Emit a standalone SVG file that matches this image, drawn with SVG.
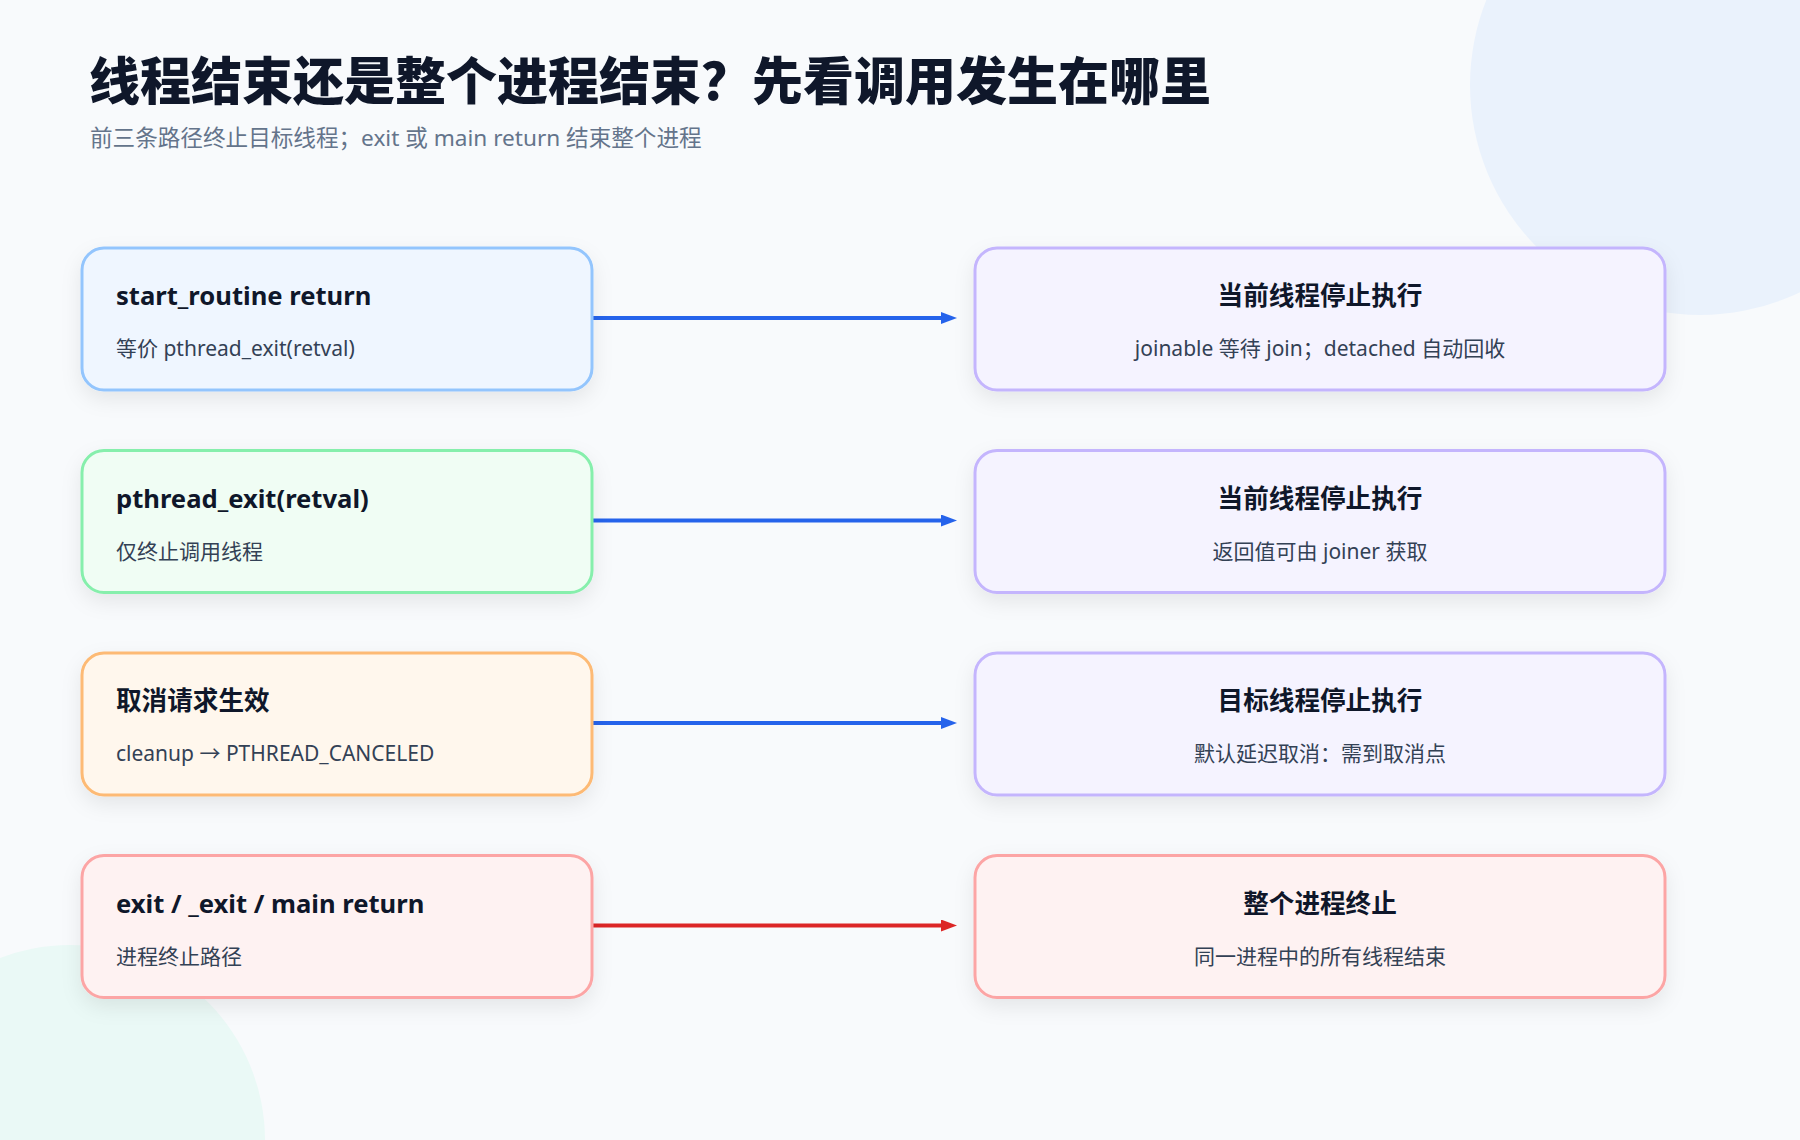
<svg xmlns="http://www.w3.org/2000/svg" width="1800" height="1140" viewBox="0 0 1800 1140">
<style>
.h1{font-family:"Noto Sans","Noto Sans CJK SC",sans-serif;font-weight:900;font-size:51px;fill:#0f172a}
.sub{font-family:"Noto Sans","Noto Sans CJK SC",sans-serif;font-size:22.6px;fill:#64748b}
.t{font-family:"Noto Sans","Noto Sans CJK SC",sans-serif;font-weight:700;font-size:25.6px;fill:#0f172a}
.d{font-family:"Noto Sans","Noto Sans CJK SC",sans-serif;font-size:21px;fill:#334155}
.c{text-anchor:middle}
.box{stroke-width:3;filter:url(#sh)}
.blue{fill:#eff6ff;stroke:#93c5fd}
.green{fill:#f0fdf4;stroke:#86efac}
.orange{fill:#fff7ed;stroke:#fdba74}
.red{fill:#fef2f2;stroke:#fca5a5}
.purple{fill:#f5f3ff;stroke:#c4b5fd}
.ab{stroke:#2563eb;stroke-width:4;fill:none;marker-end:url(#mb)}
.ar{stroke:#dc2626;stroke-width:4;fill:none;marker-end:url(#mr)}
</style>
<defs>
<filter id="sh" x="-10%" y="-20%" width="120%" height="150%">
<feDropShadow dx="0" dy="8" stdDeviation="10" flood-color="#0f172a" flood-opacity="0.08"/>
</filter>
<marker id="mb" viewBox="0 0 16 12" refX="0" refY="6" markerWidth="16" markerHeight="12" markerUnits="userSpaceOnUse" orient="auto">
<path d="M0,0 L16,6 L0,12 Z" fill="#2563eb"/>
</marker>
<marker id="mr" viewBox="0 0 16 12" refX="0" refY="6" markerWidth="16" markerHeight="12" markerUnits="userSpaceOnUse" orient="auto">
<path d="M0,0 L16,6 L0,12 Z" fill="#dc2626"/>
</marker>
</defs>
<rect x="0" y="0" width="1800" height="1140" fill="#f8fafc"/>
<circle cx="1700" cy="85" r="230" fill="#eaf2fc"/>
<circle cx="70" cy="1140" r="195" fill="#eaf9f6"/>
<text class="h1" x="89" y="100">线程结束还是整个进程结束？先看调用发生在哪里</text>
<text class="sub" x="90" y="146">前三条路径终止目标线程；exit 或 main return 结束整个进程</text>
<g id="connectors">
<line class="ab" x1="592" y1="318" x2="941" y2="318"/>
<line class="ab" x1="592" y1="520.5" x2="941" y2="520.5"/>
<line class="ab" x1="592" y1="723" x2="941" y2="723"/>
<line class="ar" x1="592" y1="925.5" x2="941" y2="925.5"/>
</g>
<g id="n1">
<rect class="box blue" x="82" y="248" width="510" height="142" rx="22"/>
<text class="t" x="116" y="305">start_routine return</text>
<text class="d" x="116" y="356">等价 pthread_exit(retval)</text>
</g>
<g id="n2">
<rect class="box green" x="82" y="450.5" width="510" height="142" rx="22"/>
<text class="t" x="116" y="507.5">pthread_exit(retval)</text>
<text class="d" x="116" y="558.5">仅终止调用线程</text>
</g>
<g id="n3">
<rect class="box orange" x="82" y="653" width="510" height="142" rx="22"/>
<text class="t" x="116" y="710">取消请求生效</text>
<text class="d" x="116" y="761">cleanup → PTHREAD_CANCELED</text>
</g>
<g id="n4">
<rect class="box red" x="82" y="855.5" width="510" height="142" rx="22"/>
<text class="t" x="116" y="912.5">exit / _exit / main return</text>
<text class="d" x="116" y="963.5">进程终止路径</text>
</g>
<g id="r1">
<rect class="box purple" x="975" y="248" width="690" height="142" rx="22"/>
<text class="t c" x="1320" y="305">当前线程停止执行</text>
<text class="d c" x="1320" y="356">joinable 等待 join；detached 自动回收</text>
</g>
<g id="r2">
<rect class="box purple" x="975" y="450.5" width="690" height="142" rx="22"/>
<text class="t c" x="1320" y="507.5">当前线程停止执行</text>
<text class="d c" x="1320" y="558.5">返回值可由 joiner 获取</text>
</g>
<g id="r3">
<rect class="box purple" x="975" y="653" width="690" height="142" rx="22"/>
<text class="t c" x="1320" y="710">目标线程停止执行</text>
<text class="d c" x="1320" y="761">默认延迟取消：需到取消点</text>
</g>
<g id="r4">
<rect class="box red" x="975" y="855.5" width="690" height="142" rx="22"/>
<text class="t c" x="1320" y="912.5">整个进程终止</text>
<text class="d c" x="1320" y="963.5">同一进程中的所有线程结束</text>
</g>
</svg>
